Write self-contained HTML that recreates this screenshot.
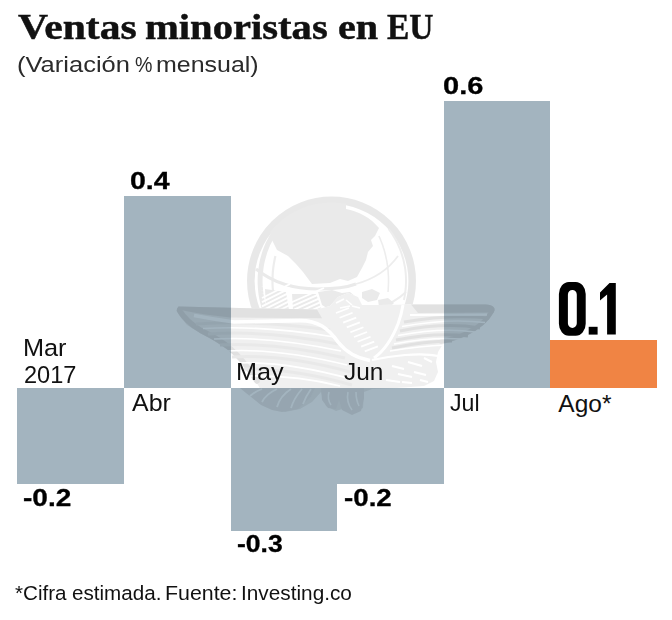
<!DOCTYPE html>
<html><head><meta charset="utf-8">
<style>
html,body{margin:0;padding:0;background:#fff;}
body{width:672px;height:620px;position:relative;overflow:hidden;font-family:"Liberation Sans",sans-serif;color:#111;}
.bar{position:absolute;background:#a3b4bf;}
.t{position:absolute;white-space:nowrap;line-height:1;transform-origin:0 0;color:#111;}
.se{font-family:"Liberation Serif",serif;font-weight:bold;color:#111;-webkit-text-stroke:0.45px #111;}
.b{font-weight:bold;color:#000;-webkit-text-stroke:0.3px #000;}
#wm{position:absolute;left:0;top:0;}
.su{color:#2b2b2b;}
</style></head><body>
<div class="bar" style="left:17px;top:388px;width:107px;height:96px"></div>
<div class="bar" style="left:124px;top:196px;width:106.5px;height:192px"></div>
<div class="bar" style="left:230.5px;top:388px;width:106.5px;height:143px"></div>
<div class="bar" style="left:337px;top:388px;width:106.5px;height:96px"></div>
<div class="bar" style="left:443.5px;top:100.5px;width:106.5px;height:287.5px"></div>
<div class="bar" style="left:549.5px;top:340px;width:107.5px;height:47.5px;background:#f08444"></div>
<svg id="wm" width="672" height="620" viewBox="0 0 672 620">
<defs>
<filter id="bl" x="0" y="0" width="672" height="620" filterUnits="userSpaceOnUse"><feGaussianBlur stdDeviation="0.55"/></filter>
<clipPath id="gc"><circle cx="331.5" cy="281" r="78.5"/></clipPath>
<mask id="wmm" maskUnits="userSpaceOnUse" x="0" y="0" width="672" height="620">
<rect width="672" height="620" fill="#000"/>
<g filter="url(#bl)">
<circle cx="331.5" cy="281" r="80.7" fill="none" stroke="#b4b4b4" stroke-width="7.6"/>
<g clip-path="url(#gc)"><path fill="#a7a7a7" d="M277,250 L272,240 L270,231 L258,231 L258,195 L346,195 L346,209 C358,211 371,218 379,228 L375,236 L371,240 L373,246 L368,252 L366,260 L362,268 L357,277 L348,281 L340,279 L330,283 L312,284 L303,272 L296,264 L288,256 Z"/>
<path fill="none" stroke="#a7a7a7" stroke-width="5" d="M279.1,226.0 L276.3,229.6 L273.9,233.2 L271.7,236.8 L269.8,240.3 L268.0,243.9 L266.5,247.5 L265.1,251.1 L264.0,254.7 L263.0,258.2 L262.1,261.8 L261.4,265.4 L260.9,269.0 L260.5,272.6 L260.2,276.2 L260.1,279.8 L260.1,283.3 L260.3,286.9 L260.6,290.5 L261.0,294.1 L261.6,297.7 L262.4,301.2 L263.3,304.8 L264.3,308.4 L265.5,312.0"/>
<path fill="none" stroke="#8f8f8f" stroke-width="2.2" d="M275.4,256.0 L274.9,258.3 L274.4,260.7 L274.0,263.0 L273.6,265.3 L273.3,267.7 L273.0,270.0 L272.8,272.3 L272.7,274.7 L272.6,277.0 L272.5,279.3 L272.5,281.7 L272.5,284.0 L272.6,286.3 L272.8,288.7 L273.0,291.0 L273.2,293.3 L273.5,295.7 L273.8,298.0 L274.2,300.3 L274.6,302.7 L275.1,305.0 L275.7,307.3 L276.3,309.7 L277.0,312.0"/>
<path fill="none" stroke="#a7a7a7" stroke-width="3" d="M256,269 C272,282 292,289 318,289 C335,289 348,287 356,284"/>
<path fill="none" stroke="#8f8f8f" stroke-width="1.8" d="M356,284 C374,279 388,270 398,256"/>
<path fill="#a7a7a7" d="M265,289 L286,292 L289,310 L266,310 Z"/>
<path fill="#a7a7a7" d="M292,294 L316,294 L322,310 L293,310 Z"/>
<path fill="none" stroke="#000" stroke-width="1.9" d="M262,298.0 L290,284.0 M262,302.2 L290,288.2 M262,306.4 L290,292.4 M262,310.6 L290,296.6 M262,314.8 L290,300.8 M262,319.0 L290,305.0 M290,303.0 L324,288.0 M290,307.2 L324,292.2 M290,311.4 L324,296.4 M290,315.6 L324,300.6 M290,319.8 L324,304.8 M290,324.0 L324,309.0 "/>
<path fill="none" stroke="#8f8f8f" stroke-width="2" d="M388.6,229.0 L390.8,232.0 L392.8,234.9 L394.6,237.9 L396.2,240.8 L397.7,243.8 L399.0,246.8 L400.2,249.7 L401.3,252.7 L402.2,255.6 L403.1,258.6 L403.8,261.5 L404.4,264.5 L405.0,267.5 L405.4,270.4 L405.7,273.4 L405.9,276.3 L406.0,279.3 L406.0,282.2 L405.9,285.2 L405.7,288.2 L405.4,291.1 L405.0,294.1 L404.5,297.0 L403.9,300.0"/>
<path fill="none" stroke="#8f8f8f" stroke-width="1.6" d="M378.9,236.0 L380.0,238.3 L380.9,240.7 L381.8,243.0 L382.7,245.3 L383.4,247.7 L384.2,250.0 L384.8,252.3 L385.4,254.7 L385.9,257.0 L386.4,259.3 L386.9,261.7 L387.2,264.0 L387.6,266.3 L387.8,268.7 L388.1,271.0 L388.2,273.3 L388.4,275.7 L388.5,278.0 L388.5,280.3 L388.5,282.7 L388.4,285.0 L388.3,287.3 L388.2,289.7 L388.0,292.0"/>
<path fill="none" stroke="#8f8f8f" stroke-width="2" d="M372,311 C386,306 398,300 406,292"/>
<path fill="#a7a7a7" d="M318,292 l14,-2 10,3 8,-1 6,5 -2,6 -8,2 -4,5 -12,0 -8,-5 z M362,292 l10,-3 8,4 -3,7 -9,2 -6,-4 z M378,300 l10,-2 6,5 -6,6 -9,-2 z"/></g>
<path fill="#000" d="M176.8,309 L178.5,306.6 L230,307.8 L317,309.6 L330,306 L338,297 L348,293 L358,297 L362,305 L380,305 L411,304.5 L486,304.5 C493,304.8 496.5,308 493.5,312.5 C488,322 478,330 465,336.5 C456,340.5 448,342.5 443,344 L438,352 L436,362 L438,372 L434,381 L424,386 L410,387 L396,388 L372,389 L364,392 L363,408 L352,414 L345,408 L336,411 L326,406 L321,392 L312,402 L300,409 L285,412 L270,406 L258,385 L245,366 L229,350.5 L212,339.5 L200,333 L187,325 L179,315 Z"/>
<path fill="#7a7a7a" d="M176.8,309 L178.5,306.6 L230,307.8 L317,309.6 L330,306 L338,297 L348,293 L358,297 L362,305 L380,305 L411,304.5 L486,304.5 C493,304.8 496.5,308 493.5,312.5 C488,322 478,330 465,336.5 C456,340.5 448,342.5 443,344 L438,352 L436,362 L438,372 L434,381 L424,386 L410,387 L396,388 L372,389 L364,392 L363,408 L352,414 L345,408 L336,411 L326,406 L321,392 L312,402 L300,409 L285,412 L270,406 L258,385 L245,366 L229,350.5 L212,339.5 L200,333 L187,325 L179,315 Z"/>
<path fill="#ebebeb" d="M176.8,309 L178.5,306.6 L230,307.8 L317,309.6 L322,318.3 L230,317.5 L205,314.5 L188,311.5 Z"/>
<path fill="none" stroke="#ebebeb" stroke-width="5.5" stroke-linecap="round" d="M179.5,310.5 C184,318 190,324 201,330.5 C210,335 220,340 229,347.5 C238,355 247,365 257,381"/>
<path fill="#ebebeb" d="M411,304.5 L486,304.5 C493,304.8 496.5,308 493.5,312.5 L418,313 Z"/>
<path fill="none" stroke="#ebebeb" stroke-width="4.5" stroke-linecap="round" d="M492,311 C487,320.5 477,328.5 465,334 C456,338 448,340 441,341.5"/>
<path fill="none" stroke="#ebebeb" stroke-width="3" d="M404,322 Q450,314 489,318 M400,331 Q445,322 480,328 M396,340 Q436,332 468,336 M392,348 Q425,341 452,341"/>
<path fill="none" stroke="#adadad" stroke-width="3" d="M196,324 Q260,320 330,330 M208,334 Q268,330 338,344 M220,345 Q276,342 345,358 M232,357 Q284,354 350,372 M244,369 Q292,368 352,385"/>
<path fill="#9f9f9f" d="M240,388 L246,393 L261,405 L272,410 L282,412 L298,409 L311,396.5 L315,388 Z"/>
<path fill="#9f9f9f" d="M321,388 L322,400 L328,408 L336,409 L339,400 L342,410 L352,415 L361,411 L364,398 L364,388 Z"/>
<path fill="none" stroke="#000" stroke-width="1.8" d="M262,389 Q254,392 250,396 M277,389 Q266,394 262,402 M291,389 Q280,396 277,407 M302,389 Q294,398 291,408 M311,389 Q306,396 303,404"/>
<path fill="none" stroke="#000" stroke-width="1.6" d="M329,392 Q327,399 331,405 M348,392 Q346,402 352,410 M356,392 Q356,400 359,406"/>
<path fill="none" stroke="#000" stroke-width="3.6" d="M194,315.5 Q215,319.5 234,322 L300,320.6 C318,320.6 328,328 338,342 C346,352 356,358 370,360.5"/>
<path fill="none" stroke="#000" stroke-width="1.6" d="M203,328.5 Q262,325 334,337 M214,339 Q270,336 341,351 M226,351 Q278,348 347,365 M238,363 Q286,361 351,379 M250,376 Q295,375 340,386 "/>
<path fill="none" stroke="#000" stroke-width="3" d="M374,358 C384,351 392,339 398,324 C401,316 402,311 403,305"/>
<path fill="none" stroke="#000" stroke-width="2.2" d="M410,315 L487,314.6"/>
<path fill="none" stroke="#000" stroke-width="1.5" d="M402,326.5 Q448,318 485,322.5 M398,335.5 Q442,327 475,332 M394,344 Q432,337 461,339 M390,351 Q420,346 446,345 "/>
<path fill="none" stroke="#000" stroke-width="1.7" d="M336.0,313.0 l13,-5 M339.6,317.8 l13,-5 M343.2,322.6 l13,-5 M346.8,327.4 l13,-5 M350.4,332.2 l13,-5 M354.0,337.0 l13,-5 M357.6,341.8 l13,-5 M361.2,346.6 l13,-5 M364.8,351.4 l13,-5 "/>
<path fill="none" stroke="#000" stroke-width="1.6" d="M336,303 l8,-4 M346,300 l6,5 M340,308 l10,-2 M352,306 l8,2"/>
<path fill="none" stroke="#000" stroke-width="2" d="M392,366 l12,3 M398,374 l14,3 M408,362 l14,4 M414,372 l12,3 M420,380 l8,2 M386,380 l14,2 M402,382 l10,1 M424,358 l8,4"/>
<path fill="none" stroke="#000" stroke-width="2.2" d="M372,360 C390,356 420,352 438,356"/>
</g>
</mask>
</defs>
<rect width="672" height="620" fill="#000" opacity="0.125" mask="url(#wmm)"/>
</svg>
<div class="t se" style="left:18.3px;top:10.4px;font-size:35px;transform:scaleX(1.189)">Ventas</div>
<div class="t se" style="left:144.54px;top:10.4px;font-size:35px;transform:scaleX(1.16)">minoristas</div>
<div class="t se" style="left:337.85px;top:10.4px;font-size:35px;transform:scaleX(1.147)">en</div>
<div class="t se" style="left:387.04px;top:10.4px;font-size:35px;transform:scaleX(0.957)">EU</div>
<div class="t su" style="left:17.17px;top:54.1px;font-size:22.5px;transform:scaleX(1.134)">(Variación</div>
<div class="t su" style="left:135.13px;top:54.1px;font-size:22.5px;transform:scaleX(0.872)">%</div>
<div class="t su" style="left:156.08px;top:54.1px;font-size:22.5px;transform:scaleX(1.109)">mensual)</div>
<div class="t" style="left:23.43px;top:336.0px;font-size:24.5px;transform:scaleX(1.032)">Mar</div>
<div class="t" style="left:24.14px;top:363.3px;font-size:24.5px;transform:scaleX(0.962)">2017</div>
<div class="t" style="left:131.5px;top:390.7px;font-size:24.5px;transform:scaleX(1.018)">Abr</div>
<div class="t" style="left:236.24px;top:360.0px;font-size:24.5px;transform:scaleX(1.03)">May</div>
<div class="t" style="left:343.5px;top:360.0px;font-size:24.5px;transform:scaleX(0.997)">Jun</div>
<div class="t" style="left:450.36px;top:391.2px;font-size:24.5px;transform:scaleX(0.945)">Jul</div>
<div class="t" style="left:558.3px;top:391.6px;font-size:24.5px;transform:scaleX(1.0)">Ago*</div>
<div class="t b" style="left:23.33px;top:485.6px;font-size:24px;transform:scaleX(1.167)">-0.2</div>
<div class="t b" style="left:129.81px;top:169.4px;font-size:24px;transform:scaleX(1.188)">0.4</div>
<div class="t b" style="left:236.99px;top:532.3px;font-size:24px;transform:scaleX(1.107)">-0.3</div>
<div class="t b" style="left:343.65px;top:485.6px;font-size:24px;transform:scaleX(1.154)">-0.2</div>
<div class="t b" style="left:442.69px;top:73.5px;font-size:24px;transform:scaleX(1.209)">0.6</div>
<div class="t" style="left:15.19px;top:582.7px;font-size:20.5px;transform:scaleX(1.006)">*Cifra</div>
<div class="t" style="left:72.19px;top:582.7px;font-size:20.5px;transform:scaleX(1.006)">estimada.</div>
<div class="t" style="left:164.82px;top:582.7px;font-size:20.5px;transform:scaleX(1.042)">Fuente:</div>
<div class="t" style="left:240.77px;top:582.7px;font-size:20.5px;transform:scaleX(1.014)">Investing.co</div>
<svg style="position:absolute;left:0;top:0" width="672" height="620" viewBox="0 0 672 620"><g fill="#000">
<path fill-rule="evenodd" d="M568.9,282.1 H575.7 A10,12 0 0 1 585.7,294.1 V323.7 A10,12 0 0 1 575.7,335.7 H568.9 A10,12 0 0 1 558.9,323.7 V294.1 A10,12 0 0 1 568.9,282.1 Z M572.35,289.9 a4.45,4.8 0 0 0 -4.45,4.8 v28.5 a4.45,4.8 0 0 0 8.9,0 v-28.5 a4.45,4.8 0 0 0 -4.45,-4.8 z"/>
<rect x="588.7" y="326.8" width="8.9" height="7.8"/>
<path d="M615.8,283.1 V334.6 H607.1 V294.6 L600,300.6 V292.5 L609.5,283.1 Z"/>
</g></svg>
</body></html>
